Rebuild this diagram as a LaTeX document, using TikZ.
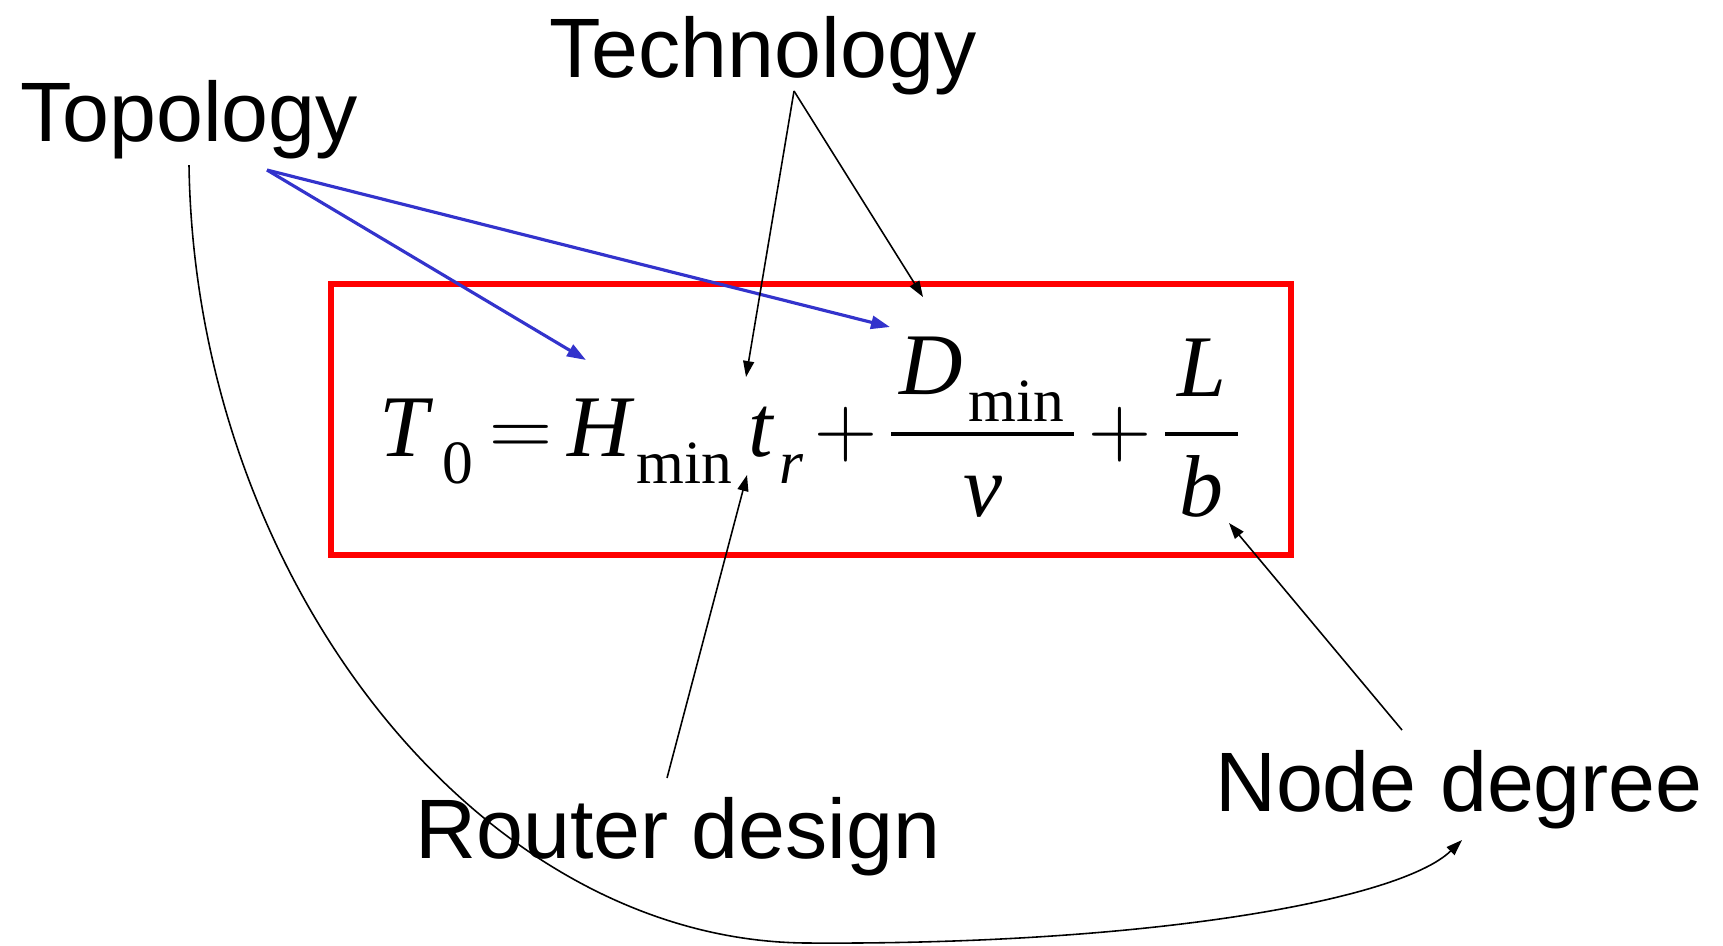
\documentclass[tikz,border=0pt]{standalone}
\usepackage{amsmath}
\usepackage{fontspec}
\setmainfont{Liberation Serif}
\setsansfont{Liberation Sans}
\usepackage{tikz}
\usetikzlibrary{arrows.meta,positioning}
\definecolor{linkblue}{RGB}{51,51,204}
% subscripts set low and a little apart, as in the typeset formula
\newcommand{\dn}[1]{\hspace{0.6mm}\raisebox{-1.4mm}{$\scriptstyle #1$}}

\begin{document}
\begin{tikzpicture}[
    x=0.1mm, y=-0.1mm,
    lbl/.style={font=\sffamily\fontsize{24}{28}\selectfont, inner sep=0pt, anchor=base},
    eqn/.style={font=\fontsize{25}{30}\selectfont, inner sep=0pt, anchor=base},
    frame/.style={draw=red, line width=1.6pt, minimum width=96mm, minimum height=27.1mm, inner sep=0pt},
    arr/.style={-{Triangle[length=1.6mm, width=1.1mm]}, line width=0.45pt},
    barr/.style={-{Triangle[length=1.9mm, width=1.3mm]}, line width=0.9pt, linkblue}
  ]
    \useasboundingbox (0,0) rectangle (1723,945);

    \node[frame] (box) at (811,419.5) {};
    \node[eqn] (eq) at (811,456)
      {$\thickmuskip=3mu \medmuskip=2mu
        \textit{T}_{\hspace{0.8mm}\dn{\textrm{0}}} = \textit{H}_{\dn{\textrm{min}}}\,\textit{t}_{\dn{\textit{r}}}
        + \dfrac{\hspace{0.8mm}\textit{D}_{\dn{\textrm{min}}}\rule[-1.6mm]{0pt}{1pt}\hspace{0.8mm}}{\textit{v}}
        + \dfrac{\hspace{1.2mm}\textit{L}\hspace{1.2mm}}{\textit{b}}$};

    \node[lbl] (topo)   at (189,141)  {Topology};
    \node[lbl] (tech)   at (763,77)   {Technology};
    \node[lbl] (router) at (678,858)  {Router design};
    \node[lbl] (degree) at (1459,811) {Node degree};

    % where the pointers leave the labels and land in the formula
    \coordinate (topo-out)   at (267,170);
    \coordinate (topo-down)  at (189,165);
    \coordinate (tech-out)   at (794,91);
    \coordinate (router-out) at (667,778);
    \coordinate (degree-out) at (1402,730);
    \coordinate (degree-in)  at (1462,840);
    \coordinate (hmin) at (586,360);
    \coordinate (dmin) at (890,327);
    \coordinate (ttop) at (746,377);
    \coordinate (dtop) at (923,297);
    \coordinate (tbot) at (747,475);
    \coordinate (bfrac) at (1229,523);

    \draw[barr] (topo-out) -- (hmin);
    \draw[barr] (topo-out) -- (dmin);
    \draw[arr] (tech-out) -- (ttop);
    \draw[arr] (tech-out) -- (dtop);
    \draw[arr] (router-out) -- (tbot);
    \draw[arr] (degree-out) -- (bfrac);
    \draw[arr] (topo-down) .. controls (195,580) and (480,943) .. (810,943)
      .. controls (1150,945) and (1400,900) .. (degree-in);
\end{tikzpicture}
\end{document}
